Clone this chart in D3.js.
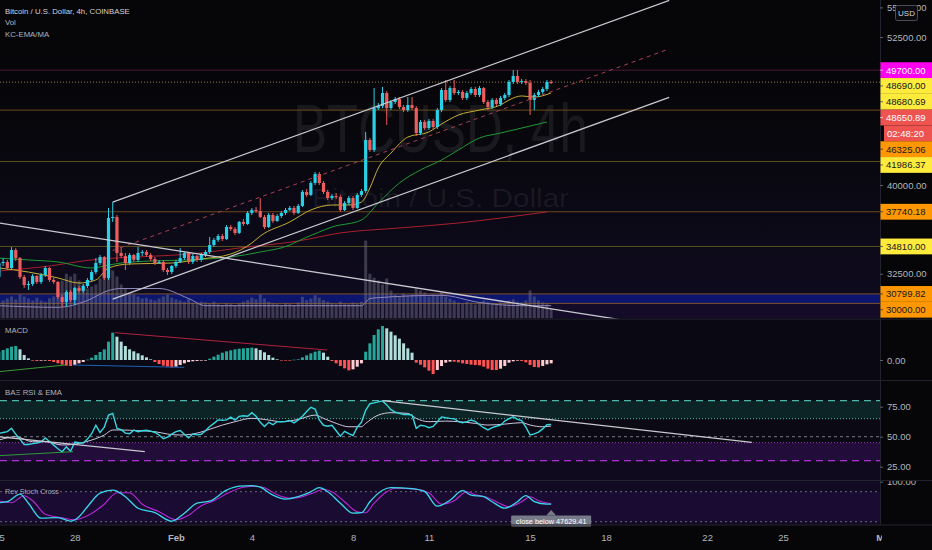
<!DOCTYPE html>
<html><head><meta charset="utf-8">
<script src="https://cdnjs.cloudflare.com/ajax/libs/d3/7.8.5/d3.min.js"></script>
<style>body{margin:0;background:#060608;overflow:hidden}svg{display:block;font-family:'Liberation Sans',Arial,sans-serif}</style>
</head><body><svg id="c" width="932" height="550"></svg>
<script>
// ---------------- DATA ----------------
const firstBar = Date.UTC(2021,0,25);      // 4h bars starting 25 Jan 2021
const barHours = 4;
const opens=[32230,33410,33500,32990,34510,33830,32230,31550,31640,32310,31810,32400,32990,31980,31810,30540,30120,30960,30290,31300,31050,31470,31980,32650,33410,33920,32150,37210,37300,34260,34000,33410,34090,33670,34260,34340,34090,33750,33410,33500,32820,32650,33160,33500,33830,34260,33500,34000,33670,34090,34340,34930,35360,35690,35440,36450,36280,35950,36880,36710,37640,37890,37800,37300,36450,37470,36960,37380,37640,37890,38060,37640,38230,39410,39160,40170,40930,40170,39410,38900,39070,38990,37890,38480,38900,38060,39160,39490,43800,42960,46500,46670,47770,46500,47010,47260,46590,46330,46760,46500,44390,45320,44810,45410,44900,46330,48020,47180,48190,47770,47860,47350,47770,48110,47600,48190,47010,46590,47180,46840,47350,47600,48700,49210,48700,48780,48620,47180,47600,47860,48110,48700];
const highs=[33670,33830,33670,34760,34680,33920,32400,31890,32480,32400,32570,33160,33070,32150,31890,30710,31130,31130,31380,31470,31640,32150,32820,33830,34090,34000,38060,38560,37470,34760,34260,34260,34170,34760,34510,34510,34260,33920,33670,33670,32990,33240,33670,34680,34340,34340,34170,34090,34260,34510,35610,35520,35860,35860,36620,36620,36450,36960,37130,37800,38060,38140,38900,37470,37640,37640,37550,37800,38060,38230,38230,38400,39580,39660,40340,41100,41100,40340,39580,39240,39320,39160,38650,39070,39070,39320,39660,44480,43970,48190,46930,48280,47940,47180,47430,47430,46760,47430,47430,46670,45490,45490,45580,45580,46500,48190,48870,48360,48870,48020,48020,47940,48280,48280,48360,48280,47180,47350,47350,47520,47770,48870,49710,49710,48950,48950,48870,47770,48020,48280,48870,48870];
const lows=[31980,33160,32820,32820,33580,32060,31300,31130,31470,31640,31640,32230,31810,31640,30370,29700,29700,30120,29860,30880,30880,31300,31810,32480,33240,31980,31980,36880,33500,33830,32820,33240,33500,33500,34000,33920,33580,33240,33330,32650,32400,32480,32990,33410,33670,33330,33330,33500,33500,33920,34170,34760,35190,35270,35360,36120,35780,35860,36540,36620,37470,37640,37210,36280,36370,36790,36880,37210,37470,37800,37470,37550,38140,38990,39070,40000,40000,39240,38730,38730,38820,37720,37800,38310,37890,37970,38990,39320,42790,42790,46330,46500,45070,46330,46840,46420,46170,46170,46330,44140,44220,44650,44650,44730,44730,46170,47010,47010,47600,47600,47180,47180,47600,47430,47430,46840,46330,46420,46670,46670,47180,47430,48530,48530,48530,48450,45910,46330,47430,47690,47940,48530];
const closes=[33410,33500,32990,34510,33830,32230,31550,31640,32310,31810,32400,32990,31980,31810,30540,30120,30960,30290,31300,31050,31470,31980,32650,33410,33920,32150,37210,37300,34260,34000,33410,34090,33670,34260,34340,34090,33750,33410,33500,32820,32650,33160,33500,33830,34260,33500,34000,33670,34090,34340,34930,35360,35690,35440,36450,36280,35950,36880,36710,37640,37890,37800,37300,36450,37470,36960,37380,37640,37890,38060,37640,38230,39410,39160,40170,40930,40170,39410,38900,39070,38990,37890,38480,38900,38060,39160,39490,43800,42960,46500,46670,47770,46500,47010,47260,46590,46330,46760,46500,44390,45320,44810,45410,44900,46330,48020,47180,48190,47770,47860,47350,47770,48110,47600,48190,47010,46590,47180,46840,47350,47600,48700,49210,48700,48780,48620,47180,47600,47860,48110,48700,48650.89];
const volumes=[4,4.5,5,5.5,4.8,6,5.5,5,4.5,5.2,4.5,4.2,5,5.5,7.5,9.5,11.2,10.5,11.2,9.5,8.5,7.5,8,8.5,10,11.2,13,12,10.5,8.5,7.5,6.5,6,5.5,5,5.2,4.8,4.5,5,5.5,6,5.2,4.8,4.5,4.2,5,4,3.8,4.2,4,3.8,4.2,3.6,3.4,3.8,3.6,3.4,3.8,4.2,4.6,5.2,4.8,6,5,4.2,3.8,3.6,3.4,3.8,3.6,3.4,4,5.4,4.6,5,5.8,5.2,4.6,4.2,3.8,3.6,4.2,3.8,3.6,4,3.8,4.2,19.5,11.2,10.2,9.5,8.5,10,7,6,5.5,6.2,5.8,6,7.5,7,6.5,5.5,6,5.8,6.5,5.5,5,4.5,4,3.8,4.2,3.8,3.5,4,4.5,4.2,3.8,3.5,4,3.8,4.5,4.8,4.2,4,4.5,7,5.5,4.5,4,3.8,2.5];
const volMaBars=[0,14,21,26,29,38,45,49,76,86,88,90,105,114,124,131];
const volMaVals=[3.2,2.8,4.5,7,7.5,7.5,5,3.2,3.2,3.2,5,5.2,5.8,4,3.2,3.2];
const emaFastBars=[0,7,14,19,23,26,31,41,48,55,60,62,69,74,79,83,86,88,90,93,97,102,105,109,114,119,121,124,127,131];
const emaFastVals=[32990,32650,32150,31720,31980,32990,33330,33410,33750,34170,35100,35690,36880,37890,38310,38310,38560,39750,41440,42700,44050,44480,45150,45910,46330,46760,47180,47520,47430,47770];
const emaMidBars=[0,7,14,22,26,29,36,45,55,62,69,71,76,79,86,90,95,100,105,109,114,119,124,130];
const emaMidVals=[33830,33670,33500,32990,33240,33410,33580,33670,33920,34340,34930,35270,36030,36450,37040,38480,40170,41270,42110,42960,43970,44390,44810,45320];
const maSlowBars=[0,10,24,33,48,57,71,81,95,109,119,130];
const maSlowVals=[32740,33070,33750,33920,34260,34680,35270,35950,36370,36790,37210,37720];
const macdHist=[250,300,350,400,420,320,150,50,-20,-30,-20,-10,-30,-60,-100,-140,-170,-180,-150,-100,-60,10,70,150,240,320,550,820,700,550,420,320,260,200,140,80,20,-60,-120,-170,-200,-220,-200,-150,-100,-60,-40,-30,-20,-10,40,100,160,220,260,290,320,340,350,360,370,350,300,230,150,70,20,-5,-10,-10,10,20,80,140,200,250,280,220,100,-30,-100,-180,-250,-310,-280,-200,-100,250,500,750,920,1020,950,850,740,640,500,350,220,-80,-140,-220,-320,-420,-300,-180,-80,-50,-50,-70,-100,-120,-140,-150,-160,-200,-260,-300,-300,-260,-180,-80,-40,-20,-30,-70,-150,-210,-220,-180,-130,-100];
const rsiVals=[52.8,53.5,54.2,57,52,48,43.5,43.5,44.2,44.8,45.6,49,46,43,40,37.5,41.5,37.8,45.5,45,44.8,48,52.5,59.5,53.5,58,68,69.4,57,55.8,53,52.5,55.5,54.2,55,55.4,54.6,53.5,51.4,48.3,49.7,52.2,54.2,55.2,52,49,52.2,51.5,52,55,58.5,61.1,64,63.7,64,66.3,63.9,67,67.5,67,70,67,62,58.5,62,60,62.5,62.5,62.7,63.6,61.5,64,67,71,74.5,73,64,59.5,58.7,59.5,55,50.5,54.5,52.5,51,58,62,72,77.5,78.2,79,79.8,76.5,72.5,70.5,69.5,68.5,68.5,68,57,59.5,59,57.5,58.5,62.5,66.5,65.8,65.3,65,62.6,61.6,62.5,63.9,62.7,60,57.5,55.6,57.5,58.7,59.6,63,65,66.5,64.5,63.5,58,51.4,52.4,53.8,56.5,60,60.3];
const rsiEmaBars=[0,4,8,11,15,19,22,25,27,29,33,37,40,43,46,49,53,56,60,64,67,71,75,77,80,83,86,87,90,93,97,99,102,106,109,113,116,120,124,126,129,131];
const rsiEmaVals=[47.2,50,45.8,45.8,43.1,44.4,47.2,51.4,55.6,55.6,55,54.2,52.2,51.4,52.2,55,59.7,62.5,65.3,63.9,62.5,64.4,68,65.3,61.1,58.3,58.3,61.1,68,70,69.4,65.3,62.5,63,62.5,61.1,59.7,60.5,61.7,59.7,58.3,58.9];
const stochKBars=[0,2,5,7,10,14,17,19,21,24,27,30,33,37,41,44,47,50,54,57,60,62,65,68,71,74,76,78,81,84,86,88,91,93,98,101,104,107,110,112,115,117,120,123,125,127,130,131];
const stochKVals=[58,60,75,57,27,28,21,30,50,77,83,70,47,38,21,37,57,61,83,91,92,89,73,65,70,80,88,80,57,37,38,60,83,88,86,80,51,63,82,73,70,60,47,60,72,60,55,55];
const stochDBars=[0,3,6,8,11,15,18,21,25,28,31,34,38,42,45,48,51,55,58,61,63,66,69,72,75,77,79,82,85,87,89,92,94,99,102,105,108,111,113,116,118,121,124,126,128,131];
const stochDVals=[62,58,72,62,35,28,24,32,55,78,78,55,40,24,33,52,62,80,89,91,88,74,67,70,79,85,80,60,40,38,57,80,87,85,78,55,62,80,74,68,60,50,60,70,62,56];
// drawings (anchors in bar number / value)
const channelBars=[27,159];
const channelUpper=[38560,55590];
const channelMid=[34465,51495];
const channelLower=[30370,47400];
const descBars=[0,147], descPrices=[36800,28650];
const macdRedBars=[27.5,77.8], macdRedVals=[820,300];
const macdBlueBars=[17.6,43.9], macdBlueVals=[-150,-220];
const macdGreenBars=[0,15.7], macdGreenVals=[-350,-150];
const rsiLongBars=[91,178.6], rsiLongVals=[80,45.2];
const rsiLeftBars=[0,34.6], rsiLeftVals=[50,37.5];
const rsiGreenBars=[0,17.6], rsiGreenVals=[34.2,37.5];
// horizontal levels & axis labels
const levelPrices=[49700,48690,48680.69,48650.89,46325.06,41986.37,37740.18,34810,30799.82,30000];
const levelKinds=['magenta','yellow','yellow','red','orange','yellow','orange','yellow','orange','orange'];
const countdownText='02:48:20';
const priceTicks=[30000,32500,35000,37500,40000,42500,45000,47500,50000,52500,55000];
const rsiTicks=[25,50,75], macdTicks=[0], stochTicks=[100];
const rsiLevels=[80,65,50,45,30], stochLevels=[80,20];
const timeTicks=[[2021,0,25],[2021,0,28],[2021,1,1],[2021,1,4],[2021,1,8],[2021,1,11],[2021,1,15],[2021,1,18],[2021,1,22],[2021,1,25],[2021,2,1]];
const timeLabels=['25','28','Feb','4','8','11','15','18','22','25','Mar'];
const tooltipText='close below 47629.41';
const tooltipBar=131;

// ---------------- SETUP ----------------
const W=932,H=550,AX=880;
const UP='#2ad0e6',DOWN='#ee5d5d';
const barTime=i=>new Date(firstBar+i*barHours*3600e3);
const x=d3.scaleUtc().domain([new Date(Date.UTC(2021,0,25)),new Date(Date.UTC(2021,2,1))]).range([-1.1,884.2]);
const yP=d3.scaleLinear().domain([30000,52500]).range([303.4,37]);
const yV=d3.scaleLinear().domain([0,25]).range([318.5,218.5]);
const yM=d3.scaleLinear().domain([0,1050]).range([360,325]);
const yR=d3.scaleLinear().domain([25,75]).range([466.7,406.7]);
const yS=d3.scaleLinear().domain([20,80]).range([521.7,491.7]);

const svg=d3.select('#c');
const defs=svg.append('defs');
function clip(id,x0,y0,w,h){defs.append('clipPath').attr('id',id).append('rect').attr('x',x0).attr('y',y0).attr('width',w).attr('height',h);}
clip('cMain',0,0,AX,318.5);clip('cMacd',0,320,AX,60);clip('cRsi',0,381,AX,99.5);clip('cSto',0,481,AX,44);
// these two are used inside translated groups -> local coordinates
clip('cTime',0,0,882,25);clip('cStoAx',0,481,52,44);
const gr=defs.append('linearGradient').attr('id','gMain').attr('x1',0).attr('x2',0).attr('y1',0).attr('y2',1);
[['0%','#050507'],['40%','#07070c'],['100%','#100b21']].forEach(s=>gr.append('stop').attr('offset',s[0]).attr('stop-color',s[1]));

svg.append('rect').attr('width',W).attr('height',H).attr('fill','#060608');
// pane backgrounds
svg.append('rect').attr('x',0).attr('y',0).attr('width',AX).attr('height',318.5).attr('fill','url(#gMain)');
svg.append('rect').attr('x',0).attr('y',yP(30000)).attr('width',AX).attr('height',318.5-yP(30000)).attr('fill','#130b28');
svg.append('rect').attr('x',0).attr('y',320).attr('width',AX).attr('height',60).attr('fill','#0a0913');
svg.append('rect').attr('x',0).attr('y',381).attr('width',AX).attr('height',99.5).attr('fill','#0b0a14');
svg.append('rect').attr('x',0).attr('y',481).attr('width',AX).attr('height',44).attr('fill','#120a22');

// ---------------- MAIN PANE ----------------
const gM=svg.append('g').attr('clip-path','url(#cMain)');
// watermark
gM.append('text').attr('x',293).attr('y',152).attr('font-size',68).attr('textLength',295).attr('lengthAdjust','spacingAndGlyphs')
  .attr('fill','rgba(255,255,255,0.075)').text('BTCUSD, 4h');
gM.append('text').attr('x',312).attr('y',207).attr('font-size',25.5).attr('textLength',257).attr('lengthAdjust','spacingAndGlyphs')
  .attr('fill','rgba(255,255,255,0.075)').text('Bitcoin / U.S. Dollar');
// blue band
gM.append('rect').attr('x',0).attr('y',yP(30799.82)).attr('width',AX).attr('height',yP(30000)-yP(30799.82)).attr('fill','#0c166e');
// horizontal level lines
const lineCol={magenta:'#4a1838',yellow:'#5e5220',orange:'#6b4a1c',red:'#a07a48'};
levelPrices.forEach((p,i)=>{
  if(i===2||i===3) return;
  const l=gM.append('line').attr('x1',0).attr('x2',AX).attr('y1',yP(p)).attr('y2',yP(p)).attr('stroke-width',1);
  if(i===1) l.attr('stroke','#9a7e4a').attr('stroke-dasharray','1,2');
  else if(i>=8) l.attr('stroke','#7a5226');
  else l.attr('stroke',lineCol[levelKinds[i]]);
});
// volume
gM.selectAll('rect.vol').data(volumes).join('rect').attr('class','vol')
  .attr('x',(d,i)=>x(barTime(i))-1.5).attr('width',3).attr('y',d=>yV(d)).attr('height',d=>yV(0)-yV(d))
  .attr('fill','rgba(115,115,135,0.45)');
const sparse=(bars,vals)=>bars.map((b,i)=>({t:barTime(b),v:vals[i]}));
function drawLine(g,data,ys,color,w,curve,dash){
  g.append('path').datum(data).attr('fill','none').attr('stroke',color).attr('stroke-width',w)
   .attr('stroke-dasharray',dash||null)
   .attr('d',d3.line().x(d=>x(d.t)).y(d=>ys(d.v)).curve(curve||d3.curveLinear));
}
drawLine(gM,sparse(volMaBars,volMaVals),yV,'#8e86b8',1,d3.curveMonotoneX);
drawLine(gM,sparse(maSlowBars,maSlowVals),yP,'#a8202c',1,d3.curveMonotoneX);
drawLine(gM,sparse(emaMidBars,emaMidVals),yP,'#1f9a34',1,d3.curveMonotoneX);
drawLine(gM,sparse(emaFastBars,emaFastVals),yP,'#c2ae34',1,d3.curveMonotoneX);
// candles
const bars=closes.map((c,i)=>({t:barTime(i),o:opens[i],h:highs[i],l:lows[i],c}));
const col=d=>d.c>=d.o?UP:DOWN;
gM.selectAll('line.wick').data(bars).join('line').attr('class','wick')
  .attr('x1',d=>x(d.t)).attr('x2',d=>x(d.t)).attr('y1',d=>yP(d.h)).attr('y2',d=>yP(d.l)).attr('stroke',col).attr('stroke-width',1);
gM.selectAll('rect.body').data(bars).join('rect').attr('class','body')
  .attr('x',d=>x(d.t)-1.6).attr('width',3.2).attr('y',d=>yP(Math.max(d.o,d.c)))
  .attr('height',d=>Math.max(1,Math.abs(yP(d.o)-yP(d.c)))).attr('fill',col);
// drawings
drawLine(gM,sparse(channelBars,channelUpper),yP,'#c8c8d0',1.3);
drawLine(gM,sparse(channelBars,channelLower),yP,'#c8c8d0',1.3);
drawLine(gM,sparse(channelBars,channelMid),yP,'#a8404e',1,null,'4,4');
drawLine(gM,sparse(descBars,descPrices),yP,'#c8c8d0',1.3);

// legend
const leg=svg.append('g').attr('font-size',7.8);
leg.append('text').attr('x',5).attr('y',14).attr('fill','#d1d4dc').text('Bitcoin / U.S. Dollar, 4h, COINBASE');
leg.append('text').attr('x',5).attr('y',24.5).attr('fill','#b2b5be').text('Vol');
leg.append('text').attr('x',5).attr('y',36.5).attr('fill','#b2b5be').text('KC-EMA/MA');

// ---------------- MACD ----------------
const gD=svg.append('g').attr('clip-path','url(#cMacd)');
gD.selectAll('rect').data(macdHist).join('rect')
  .attr('x',(d,i)=>x(barTime(i))-1.5).attr('width',3)
  .attr('y',d=>Math.min(yM(d),yM(0))).attr('height',d=>Math.max(0.6,Math.abs(yM(d)-yM(0))))
  .attr('fill',(d,i)=>{const p=i>0?macdHist[i-1]:d; if(d>=0) return d>=p?'#26a69a':'#b2dfdb'; return d<=p?'#ff5252':'#ffcdd2';});
drawLine(gD,sparse(macdRedBars,macdRedVals),yM,'#b0223e',1);
drawLine(gD,sparse(macdBlueBars,macdBlueVals),yM,'#2060b8',1);
drawLine(gD,sparse(macdGreenBars,macdGreenVals),yM,'#3a9a3a',1);
svg.append('text').attr('x',5).attr('y',333).attr('font-size',7.8).attr('fill','#b2b5be').text('MACD');

// ---------------- RSI ----------------
const gR=svg.append('g').attr('clip-path','url(#cRsi)');
gR.append('rect').attr('x',0).attr('y',yR(80)).attr('width',AX).attr('height',yR(65)-yR(80)).attr('fill','#0d2426');
gR.append('rect').attr('x',0).attr('y',yR(45)).attr('width',AX).attr('height',yR(30)-yR(45)).attr('fill','#220c3a');
gR.append('rect').attr('x',0).attr('y',yR(30)).attr('width',AX).attr('height',480-yR(30)).attr('fill','#100a1f');
const rsiStyle={80:['#4db6ac','7,5',1.3],65:['#4db6ac','1,2',1],50:['#787b86','3,3',1],45:['#9c3cc0','1,2',1],30:['#b030d8','7,5',1.3]};
rsiLevels.forEach(v=>{const s=rsiStyle[v];
  gR.append('line').attr('x1',0).attr('x2',AX).attr('y1',yR(v)).attr('y2',yR(v)).attr('stroke',s[0]).attr('stroke-dasharray',s[1]).attr('stroke-width',s[2]);});
drawLine(gR,sparse(rsiEmaBars,rsiEmaVals),yR,'#cfc6e0',1,d3.curveMonotoneX);
drawLine(gR,rsiVals.map((v,i)=>({t:barTime(i),v})),yR,'#35d6e0',1.4);
drawLine(gR,sparse(rsiLongBars,rsiLongVals),yR,'#c8c8d0',1.2);
drawLine(gR,sparse(rsiLeftBars,rsiLeftVals),yR,'#c8c8d0',1.2);
drawLine(gR,sparse(rsiGreenBars,rsiGreenVals),yR,'#2f9a3a',1);
svg.append('text').attr('x',5).attr('y',395).attr('font-size',7.8).attr('fill','#b2b5be').text('BAΞ RSI & EMA');

// ---------------- STOCH ----------------
const gS=svg.append('g').attr('clip-path','url(#cSto)');
gS.append('rect').attr('x',0).attr('y',yS(80)).attr('width',AX).attr('height',yS(20)-yS(80)).attr('fill','#190b31');
stochLevels.forEach(v=>gS.append('line').attr('x1',0).attr('x2',AX).attr('y1',yS(v)).attr('y2',yS(v))
  .attr('stroke','#6e6a80').attr('stroke-dasharray','2,3').attr('stroke-width',1));
drawLine(gS,sparse(stochDBars,stochDVals),yS,'#b628d8',1.1,d3.curveMonotoneX);
drawLine(gS,sparse(stochKBars,stochKVals),yS,'#3ad8ec',1.3,d3.curveMonotoneX);
svg.append('text').attr('x',5).attr('y',494).attr('font-size',7.2).attr('fill','#a0a3ae').text('Rev Stoch Cross');
// tooltip
const tx=x(barTime(tooltipBar));
svg.append('path').attr('d',`M${tx},510 L${tx-5},515.5 L${tx+5},515.5 Z`).attr('fill','#777a88');
svg.append('rect').attr('x',tx-40).attr('y',515.5).attr('width',80).attr('height',11).attr('rx',1).attr('fill','#777a88');
svg.append('text').attr('x',tx).attr('y',524).attr('text-anchor','middle').attr('font-size',7.3).attr('fill','#ffffff').text(tooltipText);

// ---------------- SEPARATORS ----------------
[319.2,380.5,480.5,525].forEach(y=>svg.append('line').attr('x1',0).attr('x2',W).attr('y1',y).attr('y2',y).attr('stroke','#22222c').attr('stroke-width',1));
svg.append('line').attr('x1',AX+0.5).attr('x2',AX+0.5).attr('y1',0).attr('y2',525).attr('stroke','#22222c');

// ---------------- PRICE AXIS ----------------
const BH=15.8;
const boxStyle={magenta:['#ff00f0','#ffffff'],yellow:['#ffeb3b','#131722'],orange:['#ff9800','#131722'],red:['#ef5350','#ffffff']};
let prevBottom=-1e9; const boxes=[];
levelPrices.map((p,i)=>({p,i})).sort((a,b)=>b.p-a.p).forEach(o=>{
  let cy=Math.max(yP(o.p),prevBottom+BH/2);
  boxes.push({...o,cy});
  prevBottom=cy+BH/2+(o.i===3?BH:0);
});
const fmt=d3.format('.2f');
const axG=svg.append('g').attr('transform',`translate(${AX},0)`)
  .call(d3.axisRight(yP).tickValues(priceTicks.filter(t=>!boxes.some(b=>Math.abs(b.cy-yP(t))<13))).tickFormat(fmt).tickSize(3).tickPadding(4));
axG.select('.domain').remove();
axG.selectAll('text').attr('fill','#b2b5be').attr('font-size',9.5).attr('font-family',"'Liberation Sans',Arial,sans-serif");
axG.selectAll('line').attr('stroke','#5a5d68');
boxes.forEach(b=>{
  const st=boxStyle[levelKinds[b.i]];
  svg.append('rect').attr('x',AX+0.5).attr('y',b.cy-BH/2).attr('width',W-AX).attr('height',BH).attr('fill',st[0]);
  svg.append('line').attr('x1',AX).attr('x2',AX+3).attr('y1',b.cy).attr('y2',b.cy).attr('stroke',st[1]).attr('opacity',0.6);
  svg.append('text').attr('x',AX+6).attr('y',b.cy+3.4).attr('font-size',9.5).attr('fill',st[1]).text(fmt(b.p));
  if(b.i===3){
    svg.append('rect').attr('x',AX+4).attr('y',b.cy+BH/2).attr('width',W-AX-4).attr('height',BH).attr('fill','#ef5350');
    svg.append('text').attr('x',AX+7).attr('y',b.cy+BH+3.4).attr('font-size',9.5).attr('fill','#ffffff').text(countdownText);
  }
});
// USD box
svg.append('rect').attr('x',895.5).attr('y',5.5).attr('width',22).attr('height',15).attr('rx',2).attr('fill','#0b0b10').attr('stroke','#4a4d58');
svg.append('text').attr('x',906.5).attr('y',16).attr('text-anchor','middle').attr('font-size',8).attr('fill','#d1d4dc').text('USD');

function sideAxis(scale,ticks,clipId){
  const g=svg.append('g').attr('transform',`translate(${AX},0)`).attr('clip-path',clipId||null)
    .call(d3.axisRight(scale).tickValues(ticks).tickFormat(fmt).tickSize(3).tickPadding(4));
  g.select('.domain').remove();
  g.selectAll('text').attr('fill','#b2b5be').attr('font-size',9.5).attr('font-family',"'Liberation Sans',Arial,sans-serif");
  g.selectAll('line').attr('stroke','#5a5d68');
}
sideAxis(yM,macdTicks);
sideAxis(yR,rsiTicks);
sideAxis(yS,stochTicks,'url(#cStoAx)');

// ---------------- TIME AXIS ----------------
const tDates=timeTicks.map(a=>new Date(Date.UTC(a[0],a[1],a[2])));
const tg=svg.append('g').attr('transform','translate(0,525)').attr('clip-path','url(#cTime)')
  .call(d3.axisBottom(x).tickValues(tDates).tickFormat((d,i)=>timeLabels[i]).tickSize(0).tickPadding(9));
tg.select('.domain').remove();
tg.selectAll('text').attr('fill','#b2b5be').attr('font-size',9.5).attr('font-family',"'Liberation Sans',Arial,sans-serif")
  .attr('font-weight',(d,i)=>timeLabels[i]==='Feb'||timeLabels[i]==='Mar'?'bold':'normal');
</script></body></html>
